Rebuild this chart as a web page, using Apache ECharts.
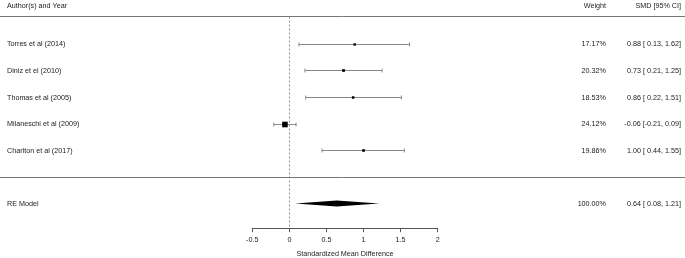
<!DOCTYPE html>
<html>
<head>
<meta charset="utf-8">
<script src="https://cdn.jsdelivr.net/npm/echarts@6/dist/echarts.min.js"></script>
<style>
html,body{margin:0;padding:0;background:#fff;}
#chart{width:685px;height:258px;}
</style>
</head>
<body>
<div id="chart"></div>
<script>
// ---- data ----
const studies = ['Torres et al (2014)', 'Diniz et el (2010)', 'Thomas et al (2005)', 'Milaneschi et al (2009)', 'Charlton et al (2017)'];
const smd = [0.88, 0.73, 0.86, -0.06, 1.00];
const ciLower = [0.13, 0.21, 0.22, -0.21, 0.44];
const ciUpper = [1.62, 1.25, 1.51, 0.09, 1.55];
const weights = [17.17, 20.32, 18.53, 24.12, 19.86];
const summaryLabel = ['RE Model'];
const summaryEst = [0.64];
const summaryLower = [0.08];
const summaryUpper = [1.21];
const summaryWeight = [100.00];
const xTicks = [-0.5, 0, 0.5, 1, 1.5, 2];
const headers = ['Author(s) and Year', 'Weight', 'SMD [95% CI]'];
const xTitle = 'Standardized Mean Difference';

// ---- layout (rows as in metafor: k..1, summary at -1) ----
const k = studies.length;
const rows = studies.map((_, i) => k - i);
const summaryRow = -1;
const headerLineRow = k + 1.03;
const headerTextRow = k + 1.44;
const sepRow = 0;
const yMin = -1.93, yMax = 6.5;

const FONT = 'Liberation Sans, Arial, sans-serif';
const FS = 7.2;
const TXT = '#222';

function fmt(v) { return (v < 0 ? '' : ' ') + v.toFixed(2); }
function ciText(e, l, u) { return e.toFixed(2) + ' [' + fmt(l) + ', ' + u.toFixed(2) + ']'; }

// square size from precision (1/se), like metafor's default
const prec = ciLower.map((l, i) => 1 / ((ciUpper[i] - l) / (2 * 1.96)));
const pMin = Math.min(...prec), pMax = Math.max(...prec);
const sqSize = prec.map(p => 2.4 + 3.2 * (p - pMin) / (pMax - pMin));

const studyData = studies.map((s, i) => [smd[i], rows[i], ciLower[i], ciUpper[i], sqSize[i]]);

// text rows for the second (full width) grid
const textData = [];
const colName = 7 / 685, colW = 606 / 685, colCI = 681 / 685;
textData.push([colName, headerTextRow, headers[0], 'left']);
textData.push([colW, headerTextRow, headers[1], 'right']);
textData.push([colCI, headerTextRow, headers[2], 'right']);
studies.forEach((s, i) => {
  textData.push([colName, rows[i], s, 'left']);
  textData.push([colW, rows[i], weights[i].toFixed(2) + '%', 'right']);
  textData.push([colCI, rows[i], ciText(smd[i], ciLower[i], ciUpper[i]), 'right']);
});
textData.push([colName, summaryRow, summaryLabel[0], 'left']);
textData.push([colW, summaryRow, summaryWeight[0].toFixed(2) + '%', 'right']);
textData.push([colCI, summaryRow, ciText(summaryEst[0], summaryLower[0], summaryUpper[0]), 'right']);

const chart = echarts.init(document.getElementById('chart'), null, {renderer: 'canvas'});
const option = {
  animation: false,
  backgroundColor: '#fff',
  grid: [
    {left: 252.3, right: 247.3, top: 4.0, bottom: 29.8, containLabel: false, outerBoundsMode: 'none'},
    {left: 0, right: 0, top: 4.0, bottom: 29.8, containLabel: false, outerBoundsMode: 'none'}
  ],
  xAxis: [
    {
      gridIndex: 0, type: 'value', min: xTicks[0], max: xTicks[xTicks.length - 1], interval: 0.5,
      axisLine: {show: true, onZero: false, lineStyle: {color: '#555', width: 1}},
      axisTick: {show: true, length: 4, inside: false, lineStyle: {color: '#555', width: 1}},
      axisLabel: {color: TXT, fontFamily: FONT, fontSize: FS, margin: 8,
        formatter: v => String(Math.round(v * 10) / 10)},
      splitLine: {show: false},
      name: xTitle, nameLocation: 'middle', nameGap: 22,
      nameTextStyle: {color: TXT, fontFamily: FONT, fontSize: FS}
    },
    {gridIndex: 1, type: 'value', min: 0, max: 1, show: false}
  ],
  yAxis: [
    {gridIndex: 0, type: 'value', min: yMin, max: yMax, show: false},
    {gridIndex: 1, type: 'value', min: yMin, max: yMax, show: false}
  ],
  series: [
    // horizontal separator lines (full width)
    {
      type: 'custom', xAxisIndex: 1, yAxisIndex: 1, clip: false, silent: true,
      data: [[headerLineRow], [sepRow]],
      renderItem: (params, api) => {
        const a = api.coord([0, api.value(0)]);
        const b = api.coord([1, api.value(0)]);
        return {type: 'line', shape: {x1: a[0], y1: Math.round(a[1]) + 0.5, x2: b[0], y2: Math.round(b[1]) + 0.5},
          style: {stroke: '#777', lineWidth: 1}};
      }
    },
    // dashed reference line at 0
    {
      type: 'custom', xAxisIndex: 0, yAxisIndex: 0, clip: false, silent: true,
      data: [[0, headerLineRow, yMin]],
      renderItem: (params, api) => {
        const a = api.coord([api.value(0), api.value(1)]);
        const b = api.coord([api.value(0), api.value(2)]);
        const x = Math.round(a[0]) + 0.5;
        return {type: 'line', shape: {x1: x, y1: a[1], x2: x, y2: b[1]},
          style: {stroke: '#777', lineWidth: 0.8, lineDash: [2, 2]}};
      }
    },
    // study CIs and squares
    {
      type: 'custom', xAxisIndex: 0, yAxisIndex: 0, clip: false, silent: true,
      data: studyData,
      renderItem: (params, api) => {
        const c = api.coord([api.value(0), api.value(1)]);
        const l = api.coord([api.value(2), api.value(1)]);
        const u = api.coord([api.value(3), api.value(1)]);
        const s = api.value(4);
        const y = Math.round(c[1]) + 0.5;
        const st = {stroke: '#888', lineWidth: 1};
        return {type: 'group', children: [
          {type: 'line', shape: {x1: l[0], y1: y, x2: u[0], y2: y}, style: st},
          {type: 'line', shape: {x1: l[0], y1: y - 2, x2: l[0], y2: y + 2}, style: st},
          {type: 'line', shape: {x1: u[0], y1: y - 2, x2: u[0], y2: y + 2}, style: st},
          {type: 'rect', shape: {x: c[0] - s / 2, y: y - s / 2, width: s, height: s}, style: {fill: '#000'}}
        ]};
      }
    },
    // summary diamond
    {
      type: 'custom', xAxisIndex: 0, yAxisIndex: 0, clip: false, silent: true,
      data: [[summaryEst[0], summaryRow, summaryLower[0], summaryUpper[0]]],
      renderItem: (params, api) => {
        const c = api.coord([api.value(0), api.value(1)]);
        const l = api.coord([api.value(2), api.value(1)]);
        const u = api.coord([api.value(3), api.value(1)]);
        const h = 3;
        return {type: 'polygon', shape: {points: [[l[0], c[1]], [c[0], c[1] - h], [u[0], c[1]], [c[0], c[1] + h]]},
          style: {fill: '#000'}};
      }
    },
    // texts
    {
      type: 'custom', xAxisIndex: 1, yAxisIndex: 1, clip: false, silent: true,
      data: textData,
      renderItem: (params, api) => {
        const d = textData[params.dataIndex];
        const p = api.coord([d[0], d[1]]);
        return {type: 'text', x: p[0], y: p[1] + 0.5,
          style: {text: d[2], fill: TXT, font: FS + 'px ' + FONT, align: d[3], verticalAlign: 'middle'}};
      }
    }
  ]
};
chart.setOption(option);
</script>
</body>
</html>
